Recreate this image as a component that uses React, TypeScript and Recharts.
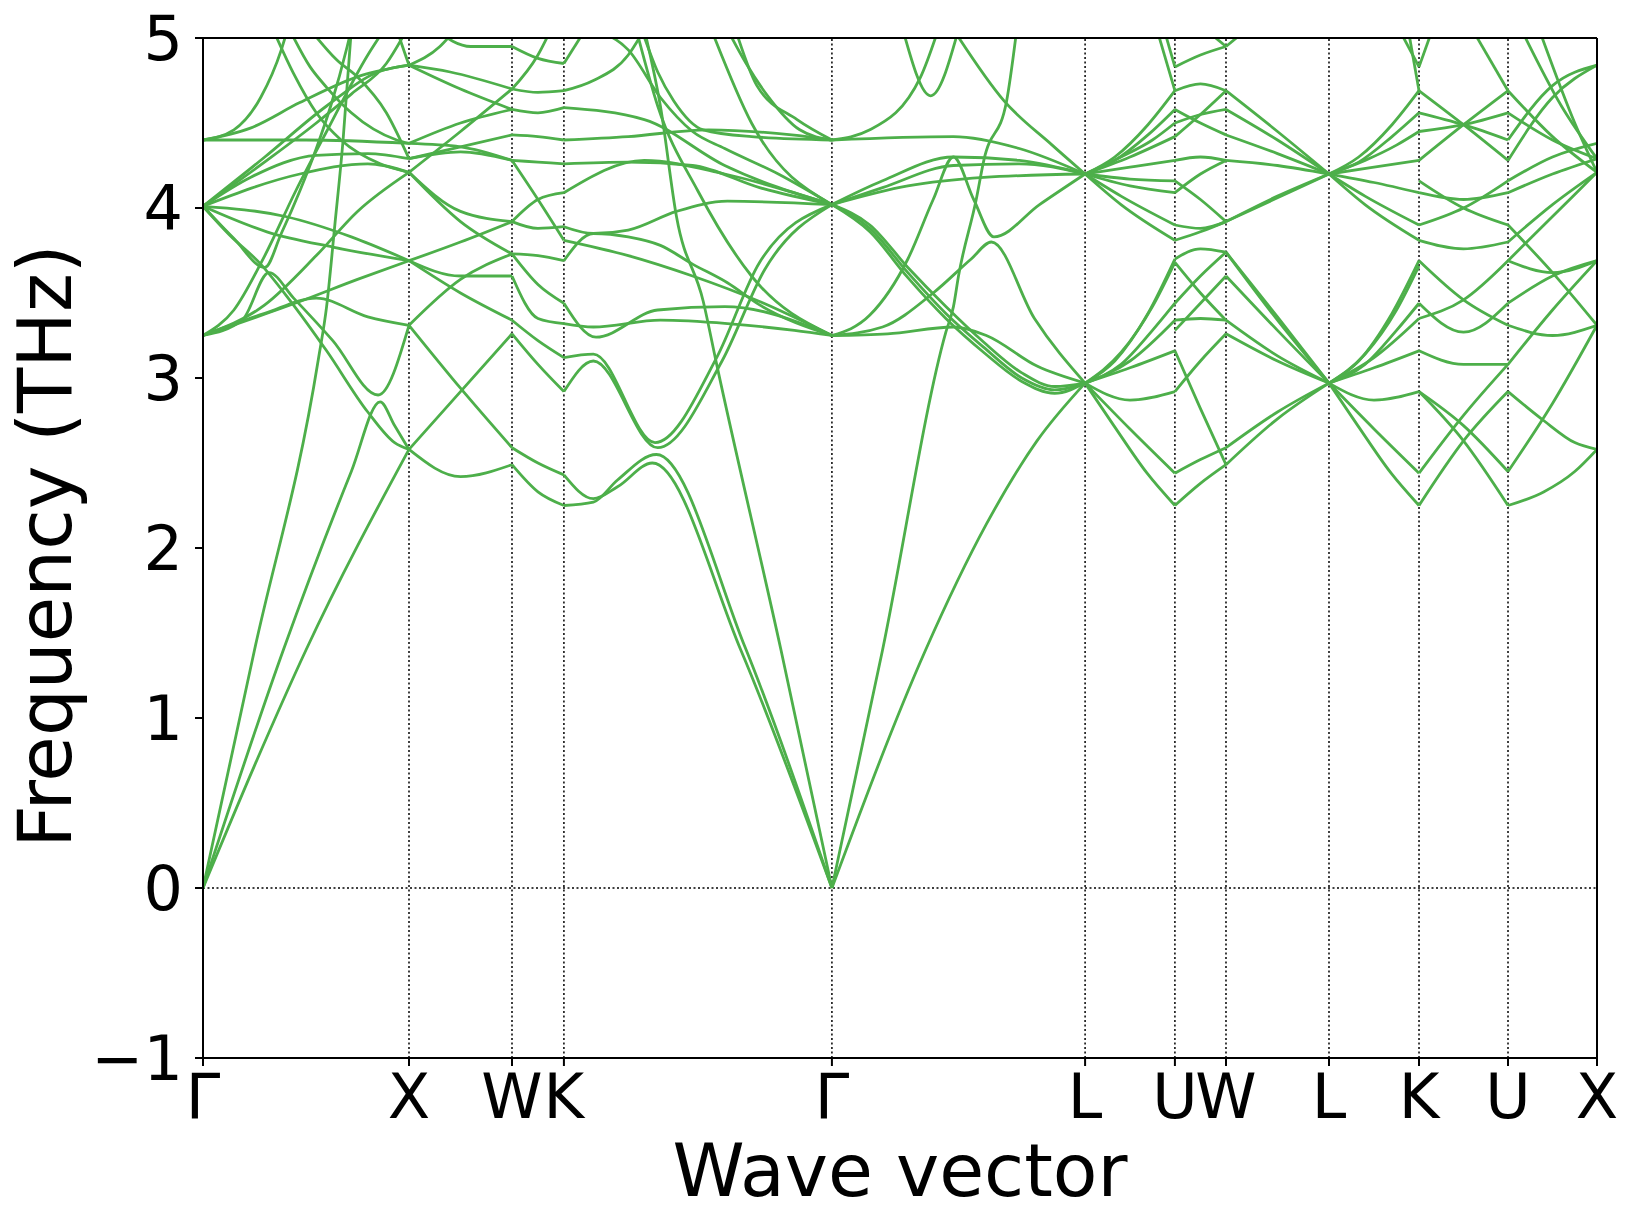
import { LineChart, Line, XAxis, YAxis, ReferenceLine, Label } from 'recharts'

// high-symmetry points along the path
const kLabels = ['Γ', 'X', 'W', 'K', 'Γ', 'L', 'U', 'W', 'L', 'K', 'U', 'X']
const kDist = [0, 1.0, 1.5, 1.752, 3.053, 4.282, 4.718, 4.966, 5.466, 5.903, 6.335, 6.767]
const freqTicks = [-1, 0, 1, 2, 3, 4, 5]

// bands per segment: [fraction along segment, frequency THz]
const gammaX = [
  [[0, 0], [0.25, 0.72], [0.5, 1.4], [1, 2.58]],
  [[0, 0], [0.39, 1.4], [0.72, 2.45], [0.86, 2.86], [0.93, 2.72], [1, 2.58]],
  [[0, 0], [0.25, 1.4], [0.56, 3.11], [0.6, 3.42], [0.64, 3.9], [0.68, 4.4], [0.72, 5.05]],
  [[0, 4.4], [0.5, 4.4], [1, 4.38]],
  [[0, 4.4], [0.15, 4.46], [0.28, 4.65], [0.38, 4.93], [0.41, 5.05]],
  [[0, 4.4], [0.23, 4.47], [0.47, 4.62], [0.77, 4.78], [1, 4.84]],
  [[0, 4.01], [0.3, 4.3], [0.6, 4.6], [0.85, 4.8], [1, 4.84]],
  [[0, 4.01], [0.31, 4.28], [0.55, 4.5], [0.72, 4.67], [0.89, 4.85], [0.99, 5.05]],
  [[0, 4.01], [0.23, 4.18], [0.55, 4.31], [0.8, 4.32], [1, 4.29]],
  [[0, 4.01], [0.47, 4.2], [0.8, 4.26], [1, 4.21]],
  [[0, 4.01], [0.4, 3.95], [0.72, 3.83], [1, 3.69]],
  [[0, 4.01], [0.31, 3.86], [0.63, 3.77], [1, 3.69]],
  [[0, 4.01], [0.15, 3.82], [0.3, 3.65], [0.38, 3.85], [0.47, 4.1], [0.55, 4.35], [0.62, 4.6], [0.7, 4.95], [0.72, 5.05]],
  [[0, 4.01], [0.13, 3.84], [0.28, 3.67], [0.42, 3.46], [0.6, 3.16], [0.8, 2.8], [0.93, 2.62], [1, 2.58]],
  [[0, 3.25], [0.19, 3.34], [0.32, 3.62], [0.44, 3.47], [0.63, 3.22], [0.85, 2.9], [1, 3.31]],
  [[0, 3.25], [0.47, 3.45], [0.75, 3.58], [1, 3.69]],
  [[0, 3.25], [0.3, 3.38], [0.55, 3.47], [0.8, 3.36], [1, 3.31]],
  [[0, 3.25], [0.3, 3.43], [0.55, 3.72], [0.75, 3.98], [1, 4.21]],
  [[0, 3.25], [0.15, 3.4], [0.3, 3.72], [0.45, 4.1], [0.6, 4.45], [0.8, 4.9], [0.88, 5.05]],
  [[0.34, 5.05], [0.44, 4.79], [0.55, 4.56], [0.67, 4.4], [0.86, 4.26], [1, 4.21]],
  [[0.42, 5.05], [0.52, 4.83], [0.6, 4.71], [0.72, 4.56], [0.94, 4.4], [1, 4.38]],
  [[0.52, 5.05], [0.65, 4.87], [0.75, 4.77], [0.89, 4.56], [1, 4.29]],
  [[0.94, 5.05], [1, 4.84]],
]

const xW = [
  [[0, 2.58], [0.5, 2.92], [1, 3.26]],
  [[0, 2.58], [0.5, 2.42], [1, 2.49]],
  [[0, 3.31], [0.5, 2.94], [1, 2.59]],
  [[0, 3.31], [0.5, 3.58], [1, 3.73]],
  [[0, 3.69], [0.5, 3.8], [1, 3.92]],
  [[0, 3.69], [0.5, 3.6], [1, 3.6]],
  [[0, 3.69], [0.5, 3.5], [1, 3.34]],
  [[0, 4.21], [0.5, 3.98], [1, 3.92]],
  [[0, 4.21], [0.5, 3.92], [1, 3.73]],
  [[0, 4.29], [0.5, 4.36], [1, 4.43]],
  [[0, 4.29], [0.5, 4.33], [1, 4.28]],
  [[0, 4.38], [0.5, 4.5], [1, 4.58]],
  [[0, 4.38], [0.5, 4.36], [1, 4.28]],
  [[0, 4.84], [0.4, 4.8], [1, 4.7]],
  [[0, 4.84], [0.5, 4.7], [1, 4.58]],
  [[0, 4.21], [0.5, 4.45], [1, 4.7]],
  [[0.25, 5.05], [0.6, 4.95], [1, 4.95]],
  [[0, 4.84], [0.3, 4.95], [0.45, 5.05]],
]

const wK = [
  [[0, 2.49], [0.5, 2.33], [1, 2.25]],
  [[0, 2.59], [0.5, 2.5], [1, 2.43]],
  [[0, 3.26], [0.5, 3.08], [1, 2.92]],
  [[0, 3.34], [0.5, 3.22], [1, 3.12]],
  [[0, 3.6], [0.5, 3.35], [1, 3.32]],
  [[0, 3.73], [0.5, 3.55], [1, 3.44]],
  [[0, 3.92], [0.5, 3.88], [1, 3.89]],
  [[0, 3.73], [0.5, 3.72], [1, 3.69]],
  [[0, 3.92], [0.5, 4.05], [1, 4.09]],
  [[0, 4.28], [0.5, 4.27], [1, 4.26]],
  [[0, 4.28], [0.5, 4.05], [1, 3.81]],
  [[0, 4.43], [0.5, 4.42], [1, 4.4]],
  [[0, 4.58], [0.5, 4.56], [1, 4.59]],
  [[0, 4.7], [0.5, 4.68], [1, 4.69]],
  [[0, 4.95], [0.5, 4.88], [1, 4.85]],
  [[0, 4.7], [0.5, 4.9], [0.75, 5.05]],
]

const kGamma = [
  [[0, 2.43], [0.11, 2.29], [0.2, 2.36], [0.33, 2.5], [0.66, 1.4], [1, 0]],
  [[0, 2.25], [0.11, 2.27], [0.2, 2.4], [0.345, 2.55], [0.675, 1.42], [1, 0]],
  [[0.3, 5.05], [0.36, 4.6], [0.42, 3.95], [0.52, 3.45], [0.57, 3.08], [0.81, 1.4], [1, 0]],
  [[0, 3.12], [0.11, 3.14], [0.34, 2.62], [0.57, 3.12], [0.73, 3.68], [1, 4.02]],
  [[0, 2.92], [0.11, 3.1], [0.35, 2.59], [0.59, 3.1], [0.75, 3.64], [1, 4.02]],
  [[0, 3.32], [0.11, 3.3], [0.36, 3.34], [0.61, 3.32], [0.86, 3.28], [1, 3.25]],
  [[0, 3.44], [0.12, 3.24], [0.35, 3.4], [0.6, 3.42], [1, 3.25]],
  [[0, 3.69], [0.11, 3.85], [0.24, 3.83], [0.36, 3.78], [0.48, 3.67], [0.61, 3.56], [0.73, 3.43], [1, 3.25]],
  [[0, 3.89], [0.11, 3.85], [0.24, 3.87], [0.42, 3.98], [0.61, 4.04], [1, 4.02]],
  [[0, 3.81], [0.24, 3.72], [0.48, 3.6], [0.73, 3.45], [1, 3.25]],
  [[0, 4.09], [0.3, 4.28], [0.6, 4.2], [1, 4.02]],
  [[0, 4.26], [0.24, 4.27], [0.48, 4.25], [0.73, 4.12], [1, 4.02]],
  [[0, 4.4], [0.24, 4.42], [0.54, 4.46], [0.85, 4.43], [1, 4.4]],
  [[0, 4.59], [0.3, 4.52], [0.6, 4.25], [1, 4.02]],
  [[0, 4.69], [0.11, 4.75], [0.24, 4.9], [0.3, 5.05]],
  [[0, 4.85], [0.08, 5.05]],
  [[0.11, 5.05], [0.24, 4.93], [0.36, 4.65], [0.48, 4.45], [0.6, 4.35], [0.8, 4.2], [1, 4.02]],
  [[0.29, 5.05], [0.35, 4.8], [0.41, 4.63], [0.52, 4.46], [0.7, 4.42], [1, 4.4]],
  [[0.61, 5.05], [0.68, 4.85], [0.76, 4.66], [0.88, 4.46], [1, 4.4]],
  [[0.64, 5.05], [0.72, 4.72], [0.87, 4.52], [1, 4.4]],
  [[0.55, 5.05], [0.7, 4.5], [1, 4.02]],
  [[0.27, 5.05], [0.35, 4.6], [0.5, 4.1], [0.7, 3.6], [1, 3.25]],
]

const gammaL = [
  [[0, 0], [0.2, 1.4], [0.45, 3.27], [0.48, 3.42], [0.5, 3.6], [0.57, 4.05], [0.6, 4.28], [0.69, 4.63], [0.73, 5.05]],
  [[0, 0], [0.37, 1.4], [0.61, 2.14], [0.81, 2.63], [1, 2.97]],
  [[0, 3.25], [0.22, 3.26], [0.48, 3.3], [0.61, 3.25], [0.81, 3.07], [1, 2.97]],
  [[0, 3.25], [0.15, 3.37], [0.3, 3.7], [0.4, 4.05], [0.48, 4.3], [0.56, 4.05], [0.64, 3.83], [0.82, 4.02], [1, 4.2]],
  [[0, 3.25], [0.2, 3.3], [0.4, 3.5], [0.55, 3.7], [0.63, 3.8], [0.8, 3.35], [1, 2.97]],
  [[0, 4.02], [0.15, 3.88], [0.3, 3.62], [0.45, 3.38], [0.6, 3.18], [0.75, 3.0], [0.88, 2.93], [1, 2.97]],
  [[0, 4.02], [0.15, 3.9], [0.3, 3.65], [0.45, 3.42], [0.6, 3.21], [0.75, 3.03], [0.88, 2.95], [1, 2.97]],
  [[0, 4.02], [0.15, 3.86], [0.3, 3.59], [0.45, 3.35], [0.6, 3.15], [0.75, 2.98], [0.88, 2.91], [1, 2.97]],
  [[0, 4.02], [0.2, 4.16], [0.48, 4.3], [0.74, 4.28], [1, 4.2]],
  [[0, 4.02], [0.2, 4.12], [0.48, 4.25], [0.74, 4.26], [1, 4.2]],
  [[0, 4.02], [0.3, 4.13], [0.6, 4.18], [1, 4.2]],
  [[0, 4.4], [0.48, 4.42], [0.74, 4.35], [1, 4.2]],
  [[0, 4.4], [0.15, 4.46], [0.35, 4.77], [0.42, 5.05]],
  [[0.48, 5.05], [0.68, 4.63], [0.87, 4.37], [1, 4.2]],
  [[0.28, 5.05], [0.39, 4.66], [0.5, 5.05]],
]

const lU = [
  [[0, 4.2], [0.33, 4.3], [0.7, 4.49], [1, 4.69]],
  [[0, 4.2], [0.33, 4.28], [0.7, 4.43], [1, 4.58]],
  [[0, 4.2], [0.4, 4.3], [0.75, 4.4], [1, 4.5]],
  [[0, 4.2], [0.5, 4.3], [1, 4.42]],
  [[0, 4.2], [0.5, 4.24], [1, 4.28]],
  [[0, 4.2], [0.5, 4.17], [1, 4.16]],
  [[0, 4.2], [0.5, 4.13], [1, 4.09]],
  [[0, 4.2], [0.4, 4.07], [1, 3.9]],
  [[0, 4.2], [0.4, 4.02], [1, 3.81]],
  [[0, 2.97], [0.33, 3.1], [0.7, 3.38], [1, 3.7]],
  [[0, 2.97], [0.4, 3.15], [0.75, 3.42], [1, 3.68]],
  [[0, 2.97], [0.4, 3.08], [0.75, 3.28], [1, 3.44]],
  [[0, 2.97], [0.5, 3.1], [1, 3.34]],
  [[0, 2.97], [0.5, 3.06], [1, 3.16]],
  [[0, 2.97], [0.5, 2.87], [1, 2.92]],
  [[0, 2.97], [0.5, 2.7], [1, 2.44]],
  [[0, 2.97], [0.32, 2.72], [0.69, 2.44], [1, 2.25]],
  [[0.8, 5.05], [1, 4.69]],
  [[0.88, 5.05], [1, 4.83]],
]

const uW = [
  [[0, 4.83], [0.5, 4.9], [1, 4.95]],
  [[0, 4.69], [0.5, 4.73], [1, 4.69]],
  [[0, 4.58], [0.5, 4.5], [1, 4.43]],
  [[0, 4.5], [0.5, 4.55], [1, 4.58]],
  [[0, 4.42], [0.5, 4.55], [1, 4.69]],
  [[0, 4.28], [0.5, 4.3], [1, 4.28]],
  [[0, 4.16], [0.5, 4.05], [1, 3.92]],
  [[0, 4.09], [0.5, 4.2], [1, 4.28]],
  [[0, 3.9], [0.5, 3.88], [1, 3.92]],
  [[0, 3.81], [0.5, 3.86], [1, 3.92]],
  [[0, 3.7], [0.5, 3.76], [1, 3.74]],
  [[0, 3.68], [0.5, 3.5], [1, 3.34]],
  [[0, 3.44], [0.5, 3.6], [1, 3.74]],
  [[0, 3.34], [0.5, 3.35], [1, 3.34]],
  [[0, 3.28], [0.5, 3.44], [1, 3.6]],
  [[0, 3.16], [0.5, 2.82], [1, 2.49]],
  [[0, 2.92], [0.5, 3.1], [1, 3.26]],
  [[0, 2.44], [0.5, 2.52], [1, 2.59]],
  [[0, 2.25], [0.5, 2.38], [1, 2.49]],
  [[0.6, 5.05], [1, 4.95]],
]

const wL = [
  [[0, 4.95], [0.2, 5.05]],
  [[0, 4.69], [0.5, 4.45], [1, 4.2]],
  [[0, 4.58], [0.5, 4.4], [1, 4.2]],
  [[0, 4.43], [0.5, 4.32], [1, 4.2]],
  [[0, 4.28], [0.5, 4.25], [1, 4.2]],
  [[0, 3.92], [0.5, 4.06], [1, 4.2]],
  [[0, 3.92], [0.5, 4.07], [1, 4.2]],
  [[0, 3.74], [0.5, 3.36], [1, 2.97]],
  [[0, 3.74], [0.5, 3.34], [1, 2.97]],
  [[0, 3.6], [0.5, 3.28], [1, 2.97]],
  [[0, 3.34], [0.5, 3.13], [1, 2.97]],
  [[0, 3.26], [0.5, 3.1], [1, 2.97]],
  [[0, 2.59], [0.5, 2.8], [1, 2.97]],
  [[0, 2.49], [0.5, 2.76], [1, 2.97]],
]

const lK = [
  [[0, 4.2], [0.33, 4.3], [0.7, 4.49], [1, 4.69]],
  [[0, 4.2], [0.33, 4.27], [0.7, 4.42], [1, 4.56]],
  [[0, 4.2], [0.4, 4.28], [0.75, 4.37], [1, 4.45]],
  [[0, 4.2], [0.5, 4.24], [1, 4.28]],
  [[0, 4.2], [0.5, 4.15], [1, 4.09]],
  [[0, 4.2], [0.4, 4.07], [1, 3.9]],
  [[0, 4.2], [0.4, 4.02], [1, 3.81]],
  [[0, 2.97], [0.33, 3.1], [0.7, 3.38], [1, 3.69]],
  [[0, 2.97], [0.4, 3.14], [0.75, 3.4], [1, 3.66]],
  [[0, 2.97], [0.4, 3.08], [0.75, 3.28], [1, 3.44]],
  [[0, 2.97], [0.5, 3.12], [1, 3.35]],
  [[0, 2.97], [0.5, 3.06], [1, 3.16]],
  [[0, 2.97], [0.5, 2.87], [1, 2.92]],
  [[0, 2.97], [0.5, 2.7], [1, 2.44]],
  [[0, 2.97], [0.32, 2.72], [0.69, 2.44], [1, 2.25]],
  [[0.78, 5.05], [1, 4.83]],
  [[0.88, 5.05], [1, 4.69]],
]

const kU = [
  [[0, 4.83], [0.15, 5.05]],
  [[0, 4.69], [0.5, 4.49], [1, 4.28]],
  [[0, 4.28], [0.5, 4.49], [1, 4.69]],
  [[0, 4.56], [0.5, 4.49], [1, 4.4]],
  [[0, 4.45], [0.5, 4.49], [1, 4.56]],
  [[0, 4.16], [0.5, 4.0], [1, 3.9]],
  [[0, 3.9], [0.5, 4.0], [1, 4.16]],
  [[0, 4.09], [0.5, 4.05], [1, 4.09]],
  [[0, 3.81], [0.5, 3.76], [1, 3.8]],
  [[0, 3.69], [0.5, 3.46], [1, 3.31]],
  [[0, 3.35], [0.5, 3.46], [1, 3.69]],
  [[0, 3.44], [0.5, 3.27], [1, 3.44]],
  [[0, 3.16], [0.5, 3.08], [1, 3.08]],
  [[0, 2.25], [0.5, 2.63], [1, 2.92]],
  [[0, 2.92], [0.5, 2.63], [1, 2.25]],
  [[0, 2.44], [0.5, 2.78], [1, 3.08]],
  [[0, 2.92], [0.5, 2.72], [1, 2.45]],
  [[0.6, 5.05], [1, 4.69]],
]

const uX = [
  [[0, 2.25], [0.4, 2.33], [0.75, 2.45], [1, 2.58]],
  [[0, 2.45], [0.5, 2.85], [1, 3.31]],
  [[0, 2.92], [0.4, 2.75], [0.75, 2.62], [1, 2.58]],
  [[0, 3.08], [0.5, 3.4], [1, 3.69]],
  [[0, 3.31], [0.5, 3.25], [1, 3.31]],
  [[0, 3.44], [0.5, 3.6], [1, 3.69]],
  [[0, 3.69], [0.5, 3.95], [1, 4.21]],
  [[0, 3.69], [0.5, 3.62], [1, 3.69]],
  [[0, 3.8], [0.5, 4.02], [1, 4.21]],
  [[0, 3.9], [0.5, 3.62], [1, 3.31]],
  [[0, 4.09], [0.5, 4.2], [1, 4.29]],
  [[0, 4.16], [0.5, 4.3], [1, 4.38]],
  [[0, 4.28], [0.5, 4.65], [1, 4.84]],
  [[0, 4.4], [0.5, 4.72], [1, 4.84]],
  [[0, 4.56], [0.5, 4.4], [1, 4.29]],
  [[0, 4.69], [0.5, 4.42], [1, 4.21]],
  [[0.15, 5.05], [0.6, 4.6], [1, 4.29]],
  [[0.35, 5.05], [0.75, 4.5], [1, 4.21]],
]

const segments = [gammaX, xW, wK, kGamma, gammaL, lU, uW, wL, lK, kU, uX]

const bands = segments.flatMap((seg, i) =>
  seg.map((band) =>
    band.map(([t, f]) => ({ q: kDist[i] + t * (kDist[i + 1] - kDist[i]), f }))
  )
)

const font = 'DejaVu Sans, sans-serif'
const green = '#4daf4a'

export default function App() {
  return (
    <div style={{ position: 'absolute', left: 0, top: 0, width: 1635, height: 1229, background: '#fff' }}>
      <LineChart width={1635} height={1229} margin={{ top: 38, right: 38, left: 0, bottom: 0 }}>
        <XAxis
          type="number"
          dataKey="q"
          domain={[0, kDist[kDist.length - 1]]}
          ticks={kDist}
          interval={0}
          allowDataOverflow
          height={171}
          tickFormatter={(_v: number, i: number) => kLabels[i]}
          tick={{ fontSize: 62, fill: '#000', fontFamily: font }}
          tickSize={8}
          tickMargin={8}
          stroke="#000"
          strokeWidth={2}
        >
          <Label
            content={() => (
              <text x={900} y={1196} textAnchor="middle" fontSize={73} fontFamily={font} fill="#000">
                Wave vector
              </text>
            )}
          />
        </XAxis>
        <YAxis
          type="number"
          dataKey="f"
          domain={[-1, 5]}
          ticks={freqTicks}
          interval={0}
          allowDataOverflow
          width={203}
          tickFormatter={(v: number) => (v < 0 ? '\u2212' + Math.abs(v) : String(v))}
          tick={{ fontSize: 62, fill: '#000', fontFamily: font }}
          tickSize={8}
          tickMargin={12}
          stroke="#000"
          strokeWidth={2}
        >
          <Label
            content={() => (
              <text
                x={71}
                y={546}
                transform="rotate(-90, 71, 546)"
                textAnchor="middle"
                fontSize={74}
                fontFamily={font}
                fill="#000"
              >
                Frequency (THz)
              </text>
            )}
          />
        </YAxis>
        {kDist.slice(1, -1).map((d, i) => (
          <ReferenceLine key={'v' + i} x={d} stroke="#000" strokeWidth={1.5} strokeDasharray="2 2.5" />
        ))}
        <ReferenceLine y={0} stroke="#000" strokeWidth={1.5} strokeDasharray="2 2.5" />
        {bands.map((data, i) => (
          <Line
            key={'b' + i}
            data={data}
            dataKey="f"
            type="monotone"
            stroke={green}
            strokeWidth={2.8}
            dot={false}
            activeDot={false}
            isAnimationActive={false}
          />
        ))}
        <ReferenceLine y={5} stroke="#000" strokeWidth={2} />
        <ReferenceLine x={kDist[kDist.length - 1]} stroke="#000" strokeWidth={2} />
      </LineChart>
    </div>
  )
}
